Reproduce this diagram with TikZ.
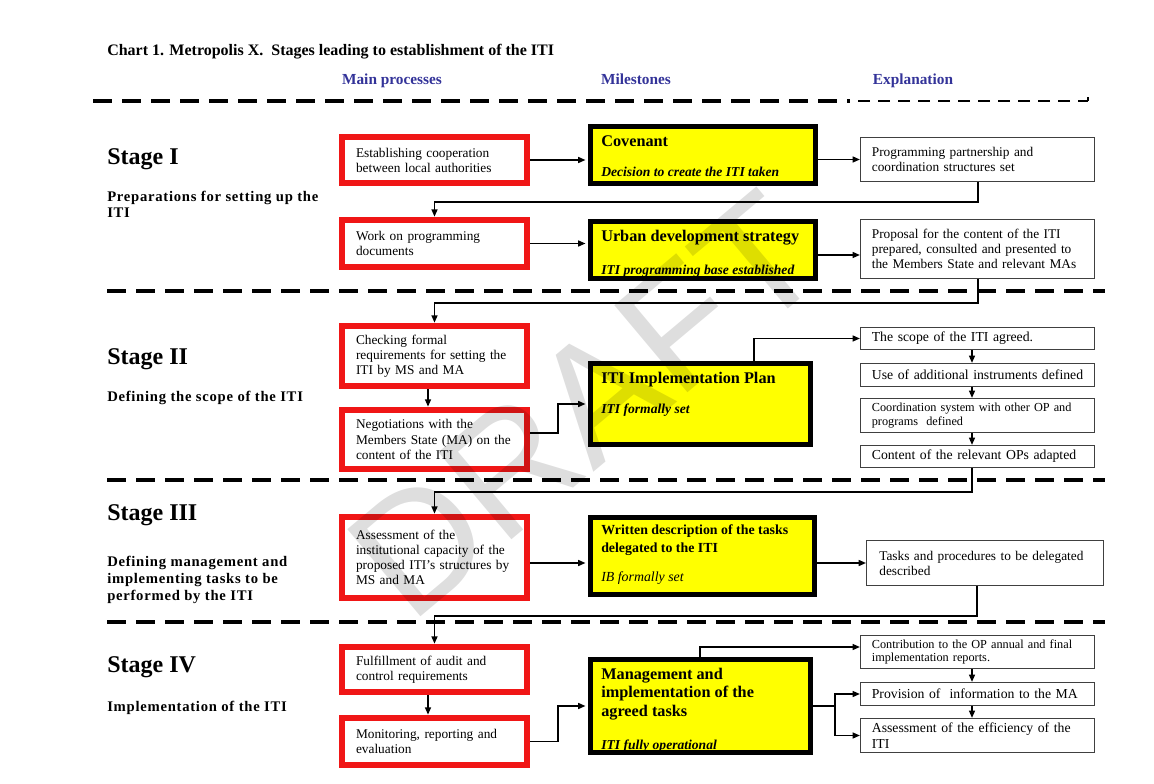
\documentclass[tikz,border=0pt]{standalone}
\usepackage{fontspec}
\setmainfont{Liberation Serif}
\newfontfamily\wmfont{Liberation Sans}
\newfontfamily\spacedbf[LetterSpace=5]{Liberation Serif}
\usetikzlibrary{arrows.meta}
\definecolor{myred}{RGB}{240,22,22}
\definecolor{hdrblue}{RGB}{51,51,153}
\definecolor{myyellow}{RGB}{255,255,0}
\definecolor{boxgray}{RGB}{64,64,64}
\begin{document}
\begin{tikzpicture}[x=0.75pt,y=-0.75pt,
  redbox/.style={draw=myred,line width=4pt,fill=white,inner xsep=10.8pt,inner ysep=0pt,text width=117.75pt,align=left,font=\fontsize{10}{11.3}\selectfont},
  ybox/.style={draw=black,line width=3.75pt,fill=myyellow,inner sep=0pt},
  wbox/.style={draw=boxgray,line width=0.9pt,fill=white,inner xsep=8.5pt,inner ysep=0pt,text width=158.5pt,align=left,font=\fontsize{10}{11.3}\selectfont},
  wsmall/.style={font=\fontsize{9.2}{10.4}\selectfont},
  wlarge/.style={font=\fontsize{10.3}{11.5}\selectfont},
  ytitle/.style={anchor=base west,inner sep=0pt,align=left,font=\bfseries\fontsize{12.2}{13.6}\selectfont},
  yital/.style={anchor=base west,inner sep=0pt,font=\bfseries\itshape\fontsize{10.2}{12}\selectfont},
  stagelbl/.style={anchor=base west,inner sep=0pt,font=\bfseries\fontsize{18}{20}\selectfont},
  stagedesc/.style={anchor=base west,inner sep=0pt,align=left,font=\spacedbf\bfseries\fontsize{11}{12.6}\selectfont},
  colhdr/.style={anchor=base,inner sep=0pt,text=hdrblue,font=\bfseries\fontsize{11.5}{13}\selectfont},
  sepline/.style={line width=3pt,dash pattern=on 14.25pt off 7.5pt},
  conn/.style={line width=1.1pt,-{Triangle[length=5.5pt,width=4.5pt]}},
  plainconn/.style={line width=1.1pt}
]
\fill[white] (0,0) rectangle (1154,784);
\useasboundingbox (0,0) rectangle (1154,784);

% title and headers
\node[anchor=base west,inner sep=0pt,font=\bfseries\fontsize{12}{14}\selectfont] (title) at (107,56) {Chart 1. Metropolis X.\ \ Stages leading to establishment of the ITI};
\node[colhdr] (h1) at (392,85) {Main processes};
\node[colhdr] (h2) at (636,85) {Milestones};
\node[colhdr] (h3) at (913,85) {Explanation};

% separators
\draw[sepline] (93,101) -- (850,101);
\draw[line width=1.5pt,dash pattern=on 9pt off 6pt] (858,101) -- (1088,101);
\draw[line width=1.5pt] (1088,101) -- (1088,97);
\draw[sepline] (107,291) -- (1105,291);
\draw[sepline] (107,480) -- (1105,480);
\draw[sepline] (107,622) -- (1105,622);

% stage labels (base anchor = baseline of the last line)
\node[stagelbl] (S1) at (107,165) {Stage I};
\node[stagedesc] (D1) at (107,218) {Preparations for setting up the\\ITI};
\node[stagelbl] (S2) at (107,365) {Stage II};
\node[stagedesc] (D2) at (107,402) {Defining the scope of the ITI};
\node[stagelbl] (S3) at (107,520) {Stage III};
\node[stagedesc] (D3) at (107,600) {Defining management and\\implementing tasks to be\\performed by the ITI};
\node[stagelbl] (S4) at (107,672) {Stage IV};
\node[stagedesc] (D4) at (107,711) {Implementation of the ITI};

% main processes
\node[redbox,minimum height=35.5pt] (R1) at (434.5,160) {Establishing cooperation\\between local authorities};
\node[redbox,minimum height=36.25pt] (R2) at (434.5,243.5) {Work on programming\\documents};
\node[redbox,minimum height=46pt] (R3) at (434.5,356) {Checking formal\\requirements for setting the\\ITI by MS and MA};
\node[redbox,minimum height=45.25pt] (R4) at (434.5,439.5) {Negotiations with the\\Members State (MA) on the\\content of the ITI};
\node[redbox,minimum height=61.75pt] (R5) at (434.5,557.5) {Assessment of the\\institutional capacity of the\\proposed ITI's structures by\\MS and MA};
\node[redbox,minimum height=34.75pt] (R6) at (434.5,669.5) {Fulfillment of audit and\\control requirements};
\node[redbox,minimum height=36.25pt] (R7) at (434.5,741.5) {Monitoring, reporting and\\evaluation};
\foreach \n in {R1,R2,R3,R4,R5,R6,R7}
  \draw[myred,line width=1pt] ([xshift=4pt,yshift=-4pt]\n.north west) rectangle ([xshift=-4pt,yshift=4pt]\n.south east);

% milestones
\node[ybox,minimum width=168.75pt,minimum height=42.75pt] (Y1) at (703,155) {};
\node[ybox,minimum width=168.75pt,minimum height=42.75pt] (Y2) at (703,250) {};
\node[ybox,minimum width=165pt,minimum height=60.75pt] (Y3) at (700.5,404) {};
\node[ybox,minimum width=168pt,minimum height=57.75pt] (Y4) at (702.5,556) {};
\node[ybox,minimum width=165pt,minimum height=69.75pt] (Y5) at (700.5,706) {};
\node[ytitle] (Y1t) at (601,147) {Covenant};
\node[yital] (Y1i) at (601,177) {Decision to create the ITI taken};
\node[ytitle] (Y2t) at (601,241.5) {Urban development strategy};
\node[yital] (Y2i) at (601,275) {ITI programming base established};
\node[ytitle] (Y3t) at (601,383) {ITI Implementation Plan};
\node[yital] (Y3i) at (601,414) {ITI formally set};
\node[ytitle,font=\bfseries\fontsize{10.4}{12.8}\selectfont] (Y4t) at (601,552) {Written description of the tasks\\delegated to the ITI};
\node[yital,font=\itshape\fontsize{10.4}{12}\selectfont] (Y4i) at (601,581.5) {IB formally set};
\node[ytitle] (Y5t) at (601,716) {Management and\\implementation of the\\agreed tasks};
\node[yital] (Y5i) at (601,749) {ITI fully operational};

% explanation
\node[wbox,minimum width=175.35pt,minimum height=33pt] (W1) at (977.5,159.5) {Programming partnership and\\coordination structures set};
\node[wbox,minimum width=175.35pt,minimum height=44pt] (W2) at (977.5,249) {Proposal for the content of the ITI\\prepared, consulted and presented to\\the Members State and relevant MAs};
\node[wbox,wlarge,minimum width=175.35pt,minimum height=16.5pt] (W3) at (977.5,338.5) {The scope of the ITI agreed.};
\node[wbox,wlarge,minimum width=175.35pt,minimum height=17.25pt] (W4) at (977.5,375) {Use of additional instruments defined};
\node[wbox,wsmall,minimum width=175.35pt,minimum height=25.5pt] (W5) at (977.5,415.5) {Coordination system with other OP and\\programs\ \ defined};
\node[wbox,wlarge,minimum width=175.35pt,minimum height=16.5pt] (W6) at (977.5,456.5) {Content of the relevant OPs adapted};
\node[wbox,minimum width=177.6pt,minimum height=33.6pt] (W7) at (985,563) {Tasks and procedures to be delegated\\described};
\node[wbox,wsmall,minimum width=175.35pt,minimum height=24.6pt] (W8) at (977.5,652) {Contribution to the OP annual and final\\implementation reports.};
\node[wbox,wlarge,minimum width=175.35pt,minimum height=17.25pt] (W9) at (977.5,694) {Provision of\ \ information to the MA};
\node[wbox,wlarge,minimum width=175.35pt,minimum height=25.5pt] (W10) at (977.5,735.5) {Assessment of the efficiency of the\\ITI};

% connectors - stage I
\coordinate (kx) at (972,0);
\coordinate (kd) at (428,0);
\draw[conn,shorten >=1.9pt] (R1.east) -- (R1.east -| Y1.west);
\draw[conn] (W1.west -| Y1.east) -- (W1.west);
\coordinate (k1) at (978,202);
\draw[conn] (W1.south -| k1) -- (k1) -| (R2.north);
\draw[conn,shorten >=1.9pt] (R2.east) -- (R2.east -| Y2.west);
\coordinate (k2a) at (818,255);
\draw[conn] (k2a -| Y2.east) -- (k2a -| W2.west);
\coordinate (k2) at (978,303);
\draw[conn] (W2.south -| k2) -- (k2) -| (R3.north);
% stage II
\draw[conn] (R3.south -| kd) -- (R4.north -| kd);
\coordinate (k4) at (558,433);
\coordinate (k5) at (558,404);
\draw[conn,shorten >=1.9pt] (R4.east |- k4) -- (k4) -- (k5) -- (k5 -| Y3.west);
\coordinate (k6) at (754,338.5);
\draw[conn] (Y3.north -| k6) -- (k6) -- (W3.west);
\draw[conn] (W3.south -| kx) -- (W4.north -| kx);
\draw[conn] (W4.south -| kx) -- (W5.north -| kx);
\draw[conn] (W5.south -| kx) -- (W6.north -| kx);
\coordinate (k8) at (972,492);
\draw[conn] (W6.south -| k8) -- (k8) -| (R5.north);
% stage III
\coordinate (k9a) at (0,563);
\draw[conn,shorten >=1.9pt] (R5.east |- k9a) -- (k9a -| Y4.west);
\draw[conn] (W7.west -| Y4.east) -- (W7.west);
\coordinate (k9) at (977,616);
\draw[conn] (W7.south -| k9) -- (k9) -| (R6.north);
% stage IV
\draw[conn] (R6.south -| kd) -- (R7.north -| kd);
\coordinate (k10) at (558,706);
\draw[conn,shorten >=1.9pt] (R7.east) -- (R7.east -| k10) -- (k10) -- (k10 -| Y5.west);
\coordinate (k12) at (700,647);
\draw[conn] (Y5.north -| k12) -- (k12) -- (k12 -| W8.west);
\coordinate (k13) at (835,706);
\draw[plainconn] (Y5.east |- k13) -- (k13);
\draw[conn] (k13) |- (W9.west);
\draw[conn] (k13) |- (W10.west);
\draw[conn] (W8.south -| kx) -- (W9.north -| kx);
\draw[conn] (W9.south -| kx) -- (W10.north -| kx);

% watermark
\node[rotate=40,text=black,opacity=0.13,font=\wmfont\fontsize{124}{124}\selectfont] (wm) at (585,405) {DRAFT};
\end{tikzpicture}
\end{document}
